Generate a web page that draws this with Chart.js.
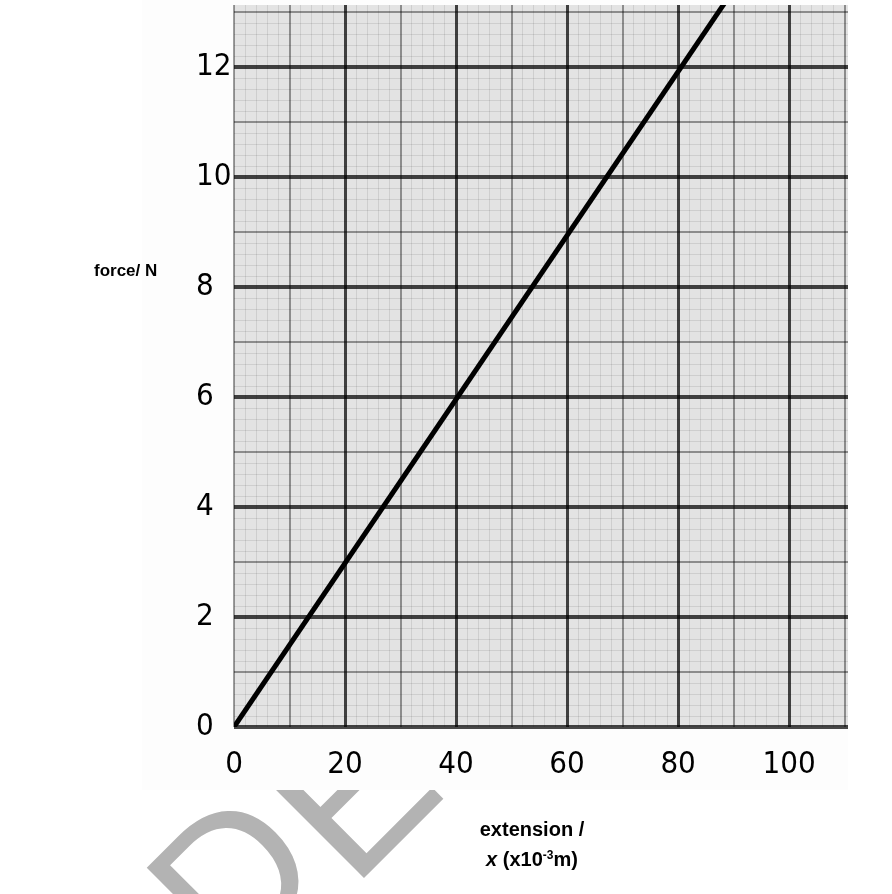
<!DOCTYPE html>
<html>
<head>
<meta charset="utf-8">
<script src="https://cdn.jsdelivr.net/npm/chart.js@4.4.0/dist/chart.umd.min.js"></script>
<style>
  html, body { margin: 0; padding: 0; background: #fff; overflow: hidden; }
  #wrap { position: relative; width: 892px; height: 894px; overflow: hidden; }
  #mark { position: absolute; left: 252px; top: 815px; font: 207px/1 'Liberation Sans', Arial, sans-serif;
          color: #b3b3b3; transform-origin: 0 175px; transform: rotate(-45deg); white-space: nowrap; }
  #mark span { position: relative; top: -26px; left: -4px; font-size: 196px; }
  canvas { position: absolute; left: 0; top: 0; }
  .lbl { position: absolute; font-family: 'Liberation Sans', Arial, sans-serif; font-weight: bold; color: #000; }
</style>
</head>
<body>
<div id="wrap">
  <div id="mark"><span>D</span>EMO</div>
  <canvas id="myChart" width="892" height="894"></canvas>
  <div class="lbl" style="left:94px; top:261px; font-size:17px;">force/ N</div>
  <div class="lbl" style="left:432px; top:816px; width:200px; text-align:center; font-size:20px; line-height:26px;">
    extension /<br><i>x</i> (x10<sup style="font-size:12px; vertical-align:7px;">-3</sup>m)
  </div>
</div>
<script>
// line: force = 0.149 * extension
const extension = [0, 88.6];
const force = [0, 13.2];
const xTickLabels = [0, 20, 40, 60, 80, 100];
const yTickLabels = [0, 2, 4, 6, 8, 10, 12];

// graph paper lines (translucent so crossings darken like ink)
const MINOR = { color: "rgba(0,0,0,0.09)", width: 1 };
const MEDIUM = { color: "rgba(0,0,0,0.38)", width: 2 };

function xLine(v) {
  if (v % 20 === 0 && v > 0) return { color: "rgba(0,0,0,0.72)", width: 3 };
  if (v % 10 === 0) return MEDIUM;
  return MINOR;
}
function yLine(v) {
  const r = Math.round(v * 5);
  if (r % 10 === 0) return { color: "rgba(0,0,0,0.72)", width: 4 };
  if (r % 5 === 0) return MEDIUM;
  return MINOR;
}

const paper = {
  id: "paper",
  beforeDraw(chart) {
    const { ctx, chartArea: a } = chart;
    ctx.save();
    ctx.fillStyle = "#fdfdfd";
    ctx.fillRect(142, 0, 706, 790);
    ctx.fillStyle = "#e3e3e3";
    ctx.fillRect(a.left, a.top, a.right - a.left, a.bottom - a.top);
    ctx.restore();
  },
};

const tickFont = { family: "'Liberation Sans Narrow', 'DejaVu Sans Condensed', 'DejaVu Sans Mono', monospace", size: 31 };

new Chart(document.getElementById("myChart").getContext("2d"), {
  type: "scatter",
  data: {
    datasets: [{
      data: extension.map((x, i) => ({ x: x, y: force[i] })),
      showLine: true,
      borderColor: "#000",
      borderWidth: 5,
      pointRadius: 0,
    }],
  },
  options: {
    responsive: false,
    animation: false,
    layout: { padding: { left: 196, right: 44, top: 5, bottom: 0 } },
    plugins: { legend: { display: false }, tooltip: { enabled: false } },
    scales: {
      x: {
        type: "linear",
        min: 0,
        max: 110.6,
        bounds: "data",
        afterFit: (s) => { s.height = 167; s.paddingLeft = 0; s.paddingRight = 0; },
        border: { display: false },
        grid: {
          drawTicks: false,
          color: (c) => xLine(c.tick.value).color,
          lineWidth: (c) => xLine(c.tick.value).width,
        },
        ticks: {
          stepSize: 2,
          includeBounds: false,
          autoSkip: false,
          maxRotation: 0,
          padding: 19,
          color: "#000",
          font: tickFont,
          callback: (v) => (xTickLabels.includes(v) ? String(v) : ""),
        },
      },
      y: {
        type: "linear",
        min: 0,
        max: 13.13,
        bounds: "data",
        afterFit: (s) => { s.width = 38; s.paddingTop = 0; s.paddingBottom = 0; },
        border: { display: false },
        grid: {
          drawTicks: false,
          color: (c) => yLine(c.tick.value).color,
          lineWidth: (c) => yLine(c.tick.value).width,
        },
        ticks: {
          stepSize: 0.2,
          includeBounds: false,
          autoSkip: false,
          crossAlign: "far",
          color: "#000",
          font: tickFont,
          callback: (v) => {
            const t = yTickLabels.find((t) => Math.abs(t - v) < 1e-6);
            return t === undefined ? "" : String(t);
          },
        },
      },
    },
  },
  plugins: [paper],
});
</script>
</body>
</html>
